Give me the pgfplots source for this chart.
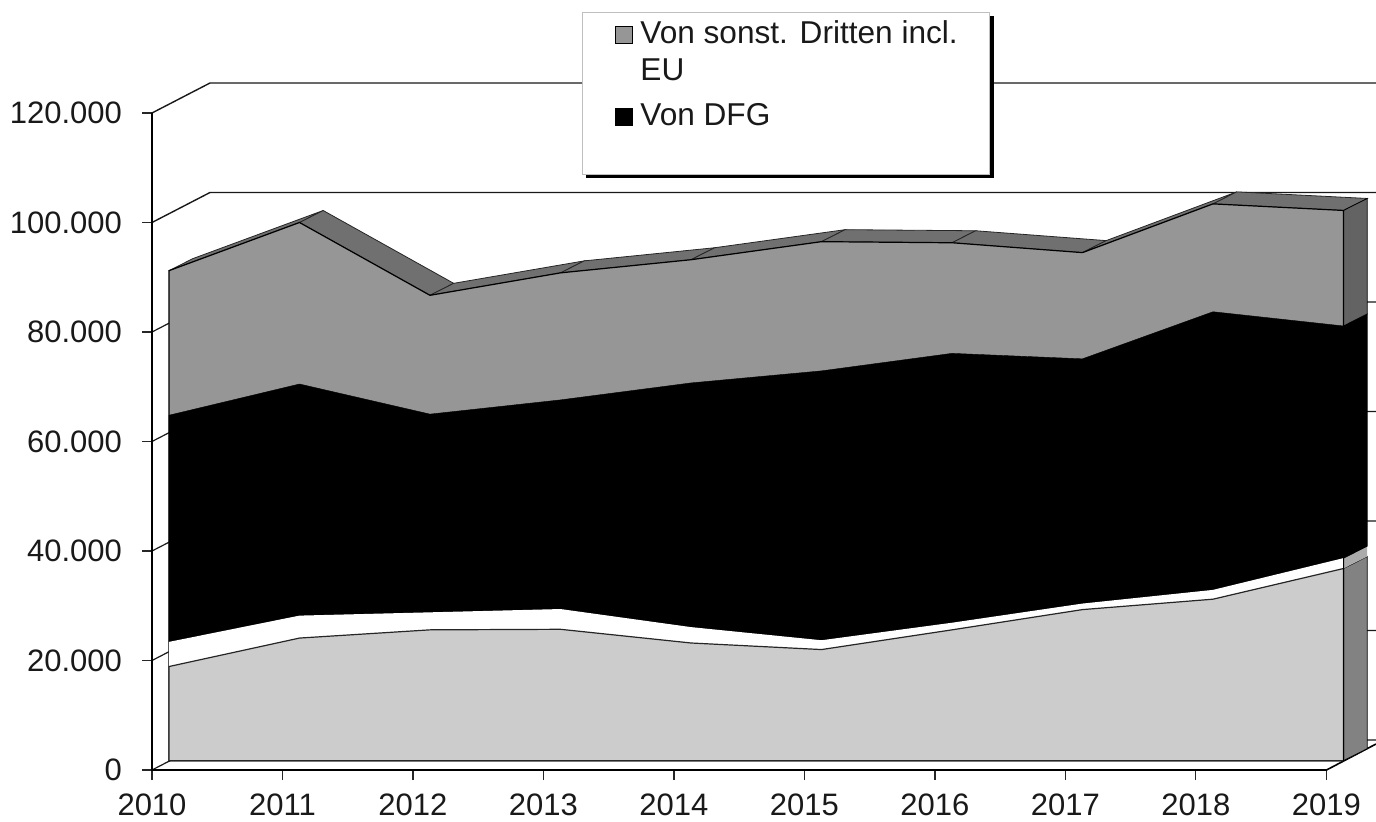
\documentclass[border=0pt]{standalone}
\usepackage{pgfplots}
\usepackage{fontspec}
\setmainfont{Liberation Sans}
\pgfplotsset{compat=1.18}
\usepackage{pgfplotstable}
\definecolor{cGray}{HTML}{969696}
\definecolor{cLight}{HTML}{CCCCCC}
\definecolor{cStrip}{HTML}{707070}
\definecolor{cSideA}{HTML}{636363}
\definecolor{cSideW}{HTML}{ABABAB}
\definecolor{cSideL}{HTML}{828282}
\pgfplotstableread{
year  light white black gray
2010  17200 21700 63100 89500
2011  22400 26500 68800 98300
2012  23900 27100 63300 85000
2013  24000 27700 65900 89100
2014  21500 24400 69000 91500
2015  20300 22000 71200 94800
2016  23900 25200 74400 94600
2017  27600 28700 73400 92800
2018  29500 31200 82000 101700
2019  35100 37000 79400 100500
}\data
% one face of depth between two points of the front plane
\newcommand\strip[5]{\addplot[forget plot,#1] table[row sep=\\,
   x expr=\thisrow{x}+0.13027+\thisrow{d}*0.1816,
   y expr=\thisrow{y}+1699+\thisrow{d}*2192]
   {x y d\\ #2 #3 0\\ #4 #5 0\\ #4 #5 1\\ #2 #3 1\\} -- cycle;}
\begin{document}
\begin{tikzpicture}
\useasboundingbox (-76pt,-25.5pt) rectangle (612pt,385pt);
\begin{axis}[
  at={(0,0)},anchor=south west,
  scale only axis,width=612pt,height=385pt,
  xmin=2010,xmax=2019.3793,ymin=0,ymax=140639,
  axis lines=left,axis line style={draw=none},
  clip=false,
  /pgf/number format/assume math mode=true,
  /pgf/number format/fixed,
  /pgf/number format/precision=0,
  xtick={2010,...,2019},
  ytick={0,20000,...,120000},
  x tick label style={/pgf/number format/1000 sep=,yshift=-3.5pt},
  y tick label style={/pgf/number format/1000 sep={.},xshift=-6.5pt},
  scaled y ticks=false,
  tick align=outside,major tick length=5pt,
  tick style={black!85,line width=.6pt},
  tick label style={font=\fontsize{15.5}{18.5}\selectfont,text=black!90},
  legend cell align=left,
  legend style={at={(rel axis cs:0.3783,0.9795)},anchor=north west,draw=none,fill=none,
    font=\fontsize{15.8}{18.5}\selectfont,text=black!90,row sep=6pt,inner sep=0pt,
    nodes={align=left}},
  legend image code/.code={\path[draw=none,fill=none] (0pt,0pt) -- (10.5pt,0pt);\draw[line width=.5pt,#1] (0.25pt,-5pt) rectangle (8.75pt,3.5pt);},
]
% back wall grid and floor
\addplot[forget plot,black!90,line width=.7pt] coordinates {(2010,120000)(2010.4444,125479)(2019.3793,125479)};
\addplot[forget plot,black!90,line width=.7pt] coordinates {(2010,100000)(2010.4444,105479)(2019.3793,105479)};
\addplot[forget plot,black!90,line width=.6pt] coordinates {(2010,80000)(2010.4444,85479)(2019.3793,85479)};
\addplot[forget plot,black!90,line width=.6pt] coordinates {(2010,60000)(2010.4444,65479)(2019.3793,65479)};
\addplot[forget plot,black!90,line width=.6pt] coordinates {(2010,40000)(2010.4444,45479)(2019.3793,45479)};
\addplot[forget plot,black!90,line width=.6pt] coordinates {(2010,20000)(2010.4444,25479)(2019.3793,25479)};
\addplot[forget plot,black!90,line width=.6pt] coordinates {(2010,0)(2010.4444,5479)(2019.3793,5479)};
\addplot[forget plot,black,line width=.8pt] coordinates {(2010,120000)(2010,0)(2019,0)(2019.3793,4749)};
% depth faces on top of the uppermost series
\strip{fill=cStrip,draw=black!85,line width=.4pt}{2010}{89500}{2011}{98300}
\strip{fill=cStrip,draw=black!85,line width=.4pt}{2011}{98300}{2012}{85000}
\strip{fill=cStrip,draw=black!85,line width=.4pt}{2012}{85000}{2013}{89100}
\strip{fill=cStrip,draw=black!85,line width=.4pt}{2013}{89100}{2014}{91500}
\strip{fill=cStrip,draw=black!85,line width=.4pt}{2014}{91500}{2015}{94800}
\strip{fill=cStrip,draw=black!85,line width=.4pt}{2015}{94800}{2016}{94600}
\strip{fill=cStrip,draw=black!85,line width=.4pt}{2016}{94600}{2017}{92800}
\strip{fill=cStrip,draw=black!85,line width=.4pt}{2017}{92800}{2018}{101700}
\strip{fill=cStrip,draw=black!85,line width=.4pt}{2018}{101700}{2019}{100500}
% depth faces at the right end
\strip{fill=cSideL,draw=black,line width=.4pt}{2019}{0}{2019}{35100}
\strip{fill=cSideW,draw=none}{2019}{35100}{2019}{37000}
\strip{fill=black,draw=black,line width=.4pt}{2019}{37000}{2019}{79400}
\strip{fill=cSideA,draw=black,line width=.4pt}{2019}{79400}{2019}{100500}
% front faces, from the top series down
\addplot[fill=cGray,draw=black,line width=.6pt,
  /pgfplots/legend image code/.code={\path[draw=none,fill=none] (0pt,0pt) -- (10.5pt,0pt);\draw[line width=.5pt,##1] (0.25pt,4.25pt) rectangle (8.75pt,12.75pt);}]
  table[x expr=\thisrow{year}+0.13027,y expr=\thisrow{gray}+1699]{\data} -- (axis cs:2019.13027,1699) -- (axis cs:2010.13027,1699) -- cycle;
\addlegendentry{{Von sonst. Dritten incl.\\EU}}
\addplot[fill=black,draw=black,line width=.2pt] table[x expr=\thisrow{year}+0.13027,y expr=\thisrow{black}+1699]{\data} -- (axis cs:2019.13027,1699) -- (axis cs:2010.13027,1699) -- cycle;
\addlegendentry{Von DFG}
\addplot[forget plot,fill=white,draw=none] table[x expr=\thisrow{year}+0.13027,y expr=\thisrow{white}+1699]{\data} -- (axis cs:2019.13027,1699) -- (axis cs:2010.13027,1699) -- cycle;
\addplot[forget plot,fill=cLight,draw=black!85,line width=.6pt] table[x expr=\thisrow{year}+0.13027,y expr=\thisrow{light}+1699]{\data} -- (axis cs:2019.13027,1699) -- (axis cs:2010.13027,1699) -- cycle;
\addplot[forget plot,black,line width=.7pt] coordinates {(2019.13027,1699)(2019.13027,102199)};
% legend box
\fill[black] (axis cs:2013.326,137717) rectangle (axis cs:2016.452,108128);
\filldraw[fill=white,draw=black!25,line width=.5pt] (axis cs:2013.295,138447) rectangle (axis cs:2016.421,108858);
\end{axis}
\end{tikzpicture}
\end{document}
